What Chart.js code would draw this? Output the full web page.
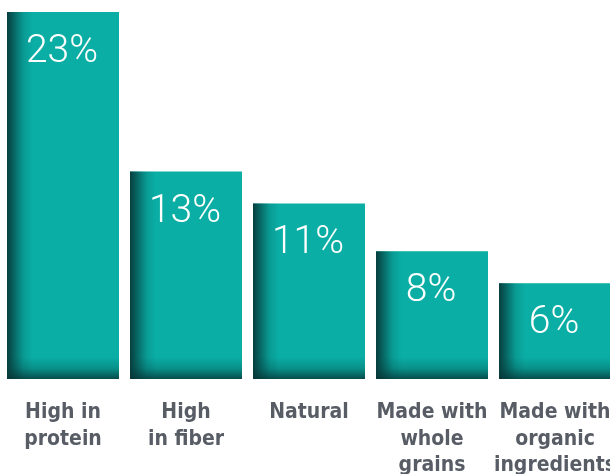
<!DOCTYPE html>
<html>
<head>
<meta charset="utf-8">
<script src="https://cdn.jsdelivr.net/npm/chart.js@4/dist/chart.umd.min.js"></script>
<style>
  html, body { margin: 0; padding: 0; background: #fff; overflow: hidden; }
  #wrap { position: relative; width: 610px; height: 474px; overflow: hidden; }
  #wrap canvas { position: absolute; left: 0; top: 0; }
</style>
</head>
<body>
<div id="wrap"><canvas id="claims" width="620" height="474"></canvas></div>
<script>
// claims shown on pack, share of products
const categories = [
    ['High in', 'protein'],
    ['High', 'in fiber'],
    ['Natural'],
    ['Made with', 'whole', 'grains'],
    ['Made with', 'organic', 'ingredients']
];
const shares = [23, 13, 11, 8, 6];
const shareLabels = ['23%', '13%', '11%', '8%', '6%'];

const TEAL = '#0aaea5';

// darker edges on the left and bottom of each bar
const barShading = {
    id: 'barShading',
    afterDatasetsDraw(chart) {
        const ctx = chart.ctx;
        const meta = chart.getDatasetMeta(0);
        meta.data.forEach((bar, i) => {
            const p = bar.getProps(['x', 'y', 'base', 'width'], true);
            const left = p.x - p.width / 2;
            const top = p.y;
            const bottom = p.base;
            const h = bottom - top;

            ctx.save();
            let g = ctx.createLinearGradient(left, 0, left + 26, 0);
            g.addColorStop(0, 'rgba(6,52,52,0.92)');
            g.addColorStop(0.3, 'rgba(6,60,60,0.6)');
            g.addColorStop(0.65, 'rgba(6,70,70,0.18)');
            g.addColorStop(1, 'rgba(6,70,70,0)');
            ctx.fillStyle = g;
            ctx.fillRect(left, top, 26, h);

            g = ctx.createLinearGradient(0, bottom - 22, 0, bottom);
            g.addColorStop(0, 'rgba(6,60,60,0)');
            g.addColorStop(0.5, 'rgba(6,60,60,0.25)');
            g.addColorStop(1, 'rgba(6,52,52,0.8)');
            ctx.fillStyle = g;
            ctx.fillRect(left, bottom - 22, p.width, 22);

            // value label
            ctx.fillStyle = '#ffffff';
            ctx.font = '300 39px Roboto, Lato, "Open Sans", sans-serif';
            ctx.textAlign = 'center';
            ctx.textBaseline = 'alphabetic';
            ctx.fillText(shareLabels[i], p.x - 1, top + 50);
            ctx.restore();
        });
    }
};

new Chart(document.getElementById('claims'), {
    type: 'bar',
    data: {
        labels: categories,
        datasets: [{
            data: shares,
            backgroundColor: TEAL,
            borderWidth: 0,
            barPercentage: 112 / 123,
            categoryPercentage: 1
        }]
    },
    options: {
        responsive: false,
        animation: false,
        layout: { padding: { left: 1.5, right: 3.5, top: 12, bottom: 0 } },
        plugins: {
            legend: { display: false },
            tooltip: { enabled: false }
        },
        scales: {
            x: {
                border: { display: false },
                grid: { display: false, drawTicks: false },
                ticks: {
                    color: '#575c65',
                    padding: 21,
                    maxRotation: 0,
                    autoSkip: false,
                    font: { family: '"Liberation Sans Narrow", "DejaVu Sans Condensed", sans-serif', size: 21, weight: 'bold', lineHeight: 1.24 }
                },
                afterFit(scale) {
                    scale.height = 95;
                    scale.paddingLeft = 0;
                    scale.paddingRight = 0;
                }
            },
            y: {
                display: false,
                min: 0,
                max: 23
            }
        }
    },
    plugins: [barShading]
});
</script>
</body>
</html>
